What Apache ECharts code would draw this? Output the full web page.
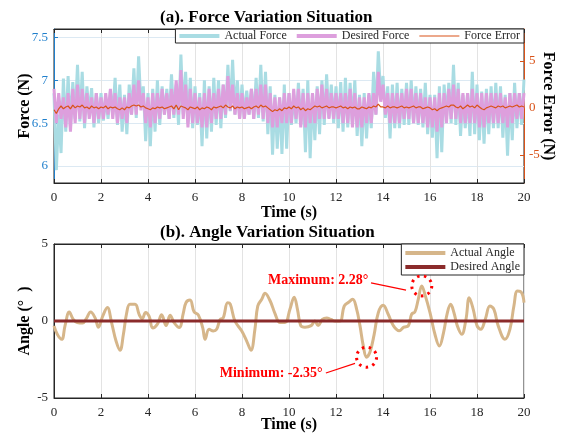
<!DOCTYPE html>
<html>
<head>
<meta charset="utf-8">
<script src="https://cdn.jsdelivr.net/npm/echarts@6/dist/echarts.min.js"></script>
<style>
  html, body { margin: 0; padding: 0; background: #fff; }
  #main { width: 565px; height: 434px; }
</style>
</head>
<body>
<div id="main"></div>
<script>
// sampling step of the force record (s)
var forceStep = 0.1;

// actual force (N), one value every 0.1 s from 0 to 20 s
var actualForce = [
  6.85, 5.95, 6.6, 6.15, 7.02, 6.4, 7.05, 6.45, 6.98, 6.55,
  7.18, 6.52, 7.1, 6.44, 6.93, 6.6, 6.91, 6.45, 6.85, 6.5,
  6.85, 6.53, 6.8, 6.55, 6.87, 6.6, 7.03, 6.48, 6.95, 6.4,
  6.83, 6.37, 6.95, 6.6, 7.14, 6.56, 7.28, 6.7, 6.93, 6.29,
  6.85, 6.23, 6.9, 6.4, 7.0, 6.48, 6.93, 6.6, 6.9, 6.55,
  7.07, 6.56, 6.95, 6.48, 7.3, 6.6, 7.1, 6.5, 7.03, 6.44,
  6.93, 6.48, 6.85, 6.23, 7.0, 6.32, 6.93, 6.4, 7.03, 6.48,
  7.0, 6.44, 6.95, 6.56, 7.18, 6.64, 7.24, 6.6, 7.0, 6.56,
  6.95, 6.56, 6.88, 6.6, 6.9, 6.55, 7.03, 6.56, 7.18, 6.52,
  7.1, 6.37, 6.93, 6.13, 6.83, 6.2, 6.8, 6.14, 6.95, 6.2,
  6.85, 6.48, 6.83, 6.5, 6.97, 6.48, 6.9, 6.16, 7.0, 6.09,
  6.85, 6.3, 6.93, 6.37, 7.0, 6.48, 7.07, 6.56, 6.95, 6.5,
  6.93, 6.44, 6.98, 6.4, 7.03, 6.45, 6.97, 6.48, 7.0, 6.35,
  6.83, 6.23, 6.85, 6.32, 6.83, 6.44, 7.1, 6.6, 7.34, 6.83,
  7.05, 6.56, 6.93, 6.32, 6.95, 6.44, 6.97, 6.44, 6.9, 6.48,
  6.97, 6.48, 7.0, 6.5, 6.93, 6.48, 6.9, 6.45, 6.97, 6.37,
  6.83, 6.33, 6.83, 6.09, 6.93, 6.16, 6.95, 6.56, 6.97, 6.5,
  7.18, 6.48, 6.97, 6.35, 6.83, 6.44, 6.85, 6.35, 7.1, 6.37,
  6.95, 6.3, 6.87, 6.26, 6.9, 6.37, 6.93, 6.44, 6.97, 6.44,
  6.93, 6.33, 6.83, 6.12, 6.85, 6.3, 6.97, 6.44, 6.85, 6.48,
  7.01
];

// desired force (N), same sampling
var desiredForce = [
  6.9, 6.5, 6.85, 6.55, 6.8, 6.45, 6.85, 6.4, 6.9, 6.5,
  6.95, 6.55, 6.9, 6.5, 6.85, 6.55, 6.8, 6.5, 6.85, 6.55,
  6.8, 6.55, 6.85, 6.6, 6.9, 6.55, 6.85, 6.5, 6.8, 6.55,
  6.8, 6.5, 6.85, 6.6, 6.95, 6.6, 7.0, 6.65, 6.85, 6.5,
  6.8, 6.45, 6.85, 6.5, 6.85, 6.55, 6.9, 6.6, 6.85, 6.55,
  6.9, 6.6, 7.0, 6.6, 7.12, 6.55, 6.95, 6.45, 6.9, 6.5,
  6.85, 6.5, 6.8, 6.45, 6.85, 6.45, 6.9, 6.5, 6.85, 6.55,
  6.9, 6.55, 6.95, 6.6, 7.05, 6.65, 6.95, 6.6, 6.85, 6.55,
  6.85, 6.55, 6.8, 6.6, 6.9, 6.55, 6.9, 6.6, 6.95, 6.55,
  6.95, 6.5, 6.85, 6.45, 6.8, 6.45, 6.8, 6.5, 6.85, 6.5,
  6.85, 6.5, 6.9, 6.55, 6.9, 6.45, 6.85, 6.45, 6.85, 6.5,
  6.85, 6.5, 6.9, 6.55, 6.95, 6.55, 6.9, 6.55, 6.85, 6.55,
  6.85, 6.55, 6.85, 6.5, 6.85, 6.5, 6.9, 6.45, 6.85, 6.45,
  6.8, 6.45, 6.8, 6.5, 6.85, 6.5, 6.85, 6.6, 7.1, 6.75,
  6.95, 6.6, 6.85, 6.5, 6.85, 6.5, 6.85, 6.5, 6.85, 6.55,
  6.9, 6.55, 6.9, 6.5, 6.85, 6.5, 6.85, 6.5, 6.8, 6.45,
  6.8, 6.45, 6.8, 6.4, 6.85, 6.45, 6.85, 6.5, 6.9, 6.55,
  6.95, 6.55, 6.9, 6.5, 6.85, 6.5, 6.85, 6.5, 6.9, 6.5,
  6.85, 6.45, 6.85, 6.45, 6.85, 6.5, 6.85, 6.5, 6.85, 6.5,
  6.85, 6.5, 6.8, 6.45, 6.85, 6.5, 6.85, 6.55, 6.85, 6.55,
  6.85
];

// force error (N), right axis
var forceError = [
  -0.2, -0.6, -0.1, 0.2, -0.1, 0.1, 0.2, -0.1, 0.3, 0.0,
  0.2, 0.1, 0.3, 0.0, 0.1, -0.1, 0.2, 0.0, 0.1, -0.1,
  0.1, 0.0, 0.2, -0.1, 0.1, 0.0, 0.1, -0.1, -0.2, 0.0,
  -0.2, 0.1, 0.0, 0.2, 0.3, 0.2, 0.3, 0.1, 0.2, 0.0,
  -0.1, -0.2, 0.0, -0.1, 0.1, 0.0, 0.1, -0.1, 0.0, 0.1,
  0.2, -0.1, 0.3, -0.2, 0.2, 0.1, 0.0, -0.2, 0.1, 0.0,
  -0.1, 0.1, -0.2, 0.0, -0.1, 0.1, 0.0, -0.2, 0.1, 0.0,
  0.1, 0.2, 0.0, 0.3, 0.1, 0.0, 0.2, -0.1, 0.1, 0.0,
  0.1, -0.1, 0.0, 0.1, -0.1, 0.1, 0.2, 0.0, 0.3, 0.1,
  0.2, 0.0, -0.2, -0.4, -0.2, -0.3, -0.1, -0.3, 0.0, -0.1,
  0.1, -0.1, 0.2, 0.0, 0.1, -0.2, 0.0, -0.3, -0.1, -0.2,
  0.0, 0.2, 0.1, 0.2, 0.0, 0.1, 0.2, 0.0, 0.1, 0.1,
  0.0, 0.1, 0.2, 0.0, 0.1, -0.1, 0.1, 0.0, 0.1, -0.1,
  -0.1, 0.1, 0.0, -0.1, 0.1, 0.0, 0.2, 0.1, 0.4, 0.1,
  0.1, 0.0, 0.2, 0.0, 0.1, 0.1, 0.0, 0.1, 0.2, 0.0,
  0.1, 0.0, 0.1, 0.2, 0.0, 0.1, 0.1, -0.1, 0.0, 0.1,
  0.0, -0.2, -0.1, -0.3, -0.1, 0.0, 0.1, 0.2, 0.1, 0.3,
  0.3, 0.1, 0.0, 0.2, -0.1, 0.1, 0.3, 0.1, 0.2, 0.0,
  0.3, 0.1, -0.1, -0.2, 0.0, 0.1, 0.2, 0.1, 0.0, 0.2,
  0.1, 0.2, 0.0, 0.1, 0.2, 0.1, 0.2, 0.3, 0.1, 0.2,
  0.1
];

// actual angle (deg) read at these times (s)
var angleTime = [
  0, 0.14, 0.33, 0.47, 0.65, 0.82, 0.99, 1.22, 1.37, 1.56,
  1.75, 1.89, 2.07, 2.27, 2.45, 2.64, 2.81, 2.95, 3.09, 3.23,
  3.45, 3.63, 3.75, 3.9, 4.05, 4.2, 4.4, 4.58, 4.77, 4.94,
  5.11, 5.33, 5.5, 5.62, 5.79, 5.96, 6.14, 6.33, 6.43, 6.6,
  6.78, 6.92, 7.07, 7.2, 7.39, 7.5, 7.7, 7.99, 8.2, 8.38,
  8.55, 8.67, 8.84, 8.98, 9.2, 9.4, 9.62, 9.83, 10.04, 10.22,
  10.36, 10.5, 10.68, 10.94, 11.1, 11.24, 11.42, 11.6, 11.79, 11.96,
  12.17, 12.35, 12.52, 12.71, 12.88, 13.02, 13.16, 13.3, 13.45, 13.62,
  13.8, 14.01, 14.22, 14.44, 14.69, 14.89, 15.08, 15.22, 15.36, 15.5,
  15.65, 15.79, 16.0, 16.21, 16.4, 16.57, 16.74, 16.88, 17.02, 17.16,
  17.35, 17.53, 17.67, 17.84, 18.0, 18.16, 18.35, 18.55, 18.72, 18.9,
  19.19, 19.4, 19.57, 19.72, 19.9, 20.0
];
var angleValue = [
  -0.32, -0.86, -1.19, -0.3, 0.58, 0.1, -0.1, -0.13, 0.14, 0.58,
  0.2, -0.4, 0.3, 0.87, -0.1, -1.3, -1.9, -0.9, 0.5, 1.08,
  1.08, 0.4, 0.15, 0.55, 0.3, -0.45, -0.2, 0.4, -0.3, 0.37,
  -0.1, -0.42, 0.5, 1.2, 1.36, 0.6, 0.4, -0.45, -1.19, -0.54,
  -0.65, -0.54, 0.1, 0.2, 1.19, 1.1, 0.0, -0.65, -1.3, -1.9,
  -0.54, 0.97, 1.41, 1.8, 1.3, 0.5, -0.1, -0.1, 0.76, 1.55,
  0.76, -0.3, -0.4, -0.3, 0.0, -0.3, 0.1, 0.2, 0.1, 0.0,
  0.0, 0.97, 1.2, 1.41, 0.76, -0.3, -1.6, -2.35, -2.0, -0.9,
  0.54, 1.02, 0.44, -0.3, -0.63, -0.4, -0.3, 0.44, 0.6, 1.41,
  2.28, 1.7, 0.54, -0.86, -1.62, -0.8, 0.54, 1.08, 0.54, -0.3,
  -0.86, 0.1, 1.51, 0.76, -0.3, -0.54, 0.1, 0.97, 0.76, -0.3,
  -1.19, -0.54, 0.97, 1.95, 1.84, 1.2
];

// desired angle (deg)
var desiredAngleTime = [0, 20];
var desiredAngle = [0, 0];

var forceTicks = [6, 6.5, 7, 7.5];
var errorTicks = [-5, 0, 5];

var serif = 'Liberation Serif';
var ink = '#262626';
var blue = '#1F7FCC';
var orange = '#D95319';

function toPairs(times, vals) {
  var out = [];
  for (var i = 0; i < vals.length; i++) {
    var t = times ? times[i] : Math.round(i * forceStep * 100) / 100;
    out.push([t, vals[i]]);
  }
  return out;
}

// find the extreme points of the angle record for the callouts
var maxIdx = 0, minIdx = 0;
for (var k = 0; k < angleValue.length; k++) {
  if (angleValue[k] > angleValue[maxIdx]) maxIdx = k;
  if (angleValue[k] < angleValue[minIdx]) minIdx = k;
}
var maxPt = [angleTime[maxIdx], angleValue[maxIdx]];
var minPt = [angleTime[minIdx], angleValue[minIdx]];

var nameFont = { fontFamily: serif, fontWeight: 'bold', fontSize: 16, color: '#000' };

function xAxisFor(gridIndex, showLabels, gap) {
  return {
    type: 'value', gridIndex: gridIndex, min: 0, max: 20, interval: 2,
    position: showLabels ? 'bottom' : 'top',
    name: showLabels ? 'Time (s)' : '', nameLocation: 'middle', nameGap: gap,
    nameMoveOverlap: false, nameTextStyle: nameFont,
    axisLine: { onZero: false, lineStyle: { color: ink } },
    axisTick: { inside: true, length: 4, lineStyle: { color: ink } },
    axisLabel: { show: showLabels, fontFamily: serif, fontSize: 13, color: ink, margin: 8 },
    splitLine: { show: showLabels, lineStyle: { color: '#E3E3E3' } }
  };
}

function calloutText(pt, text) {
  return {
    coord: pt, symbol: 'circle', symbolSize: 1,
    itemStyle: { color: 'rgba(0,0,0,0)' },
    label: {
      show: true, position: 'left', distance: 0, formatter: text,
      color: '#FF0000', fontFamily: serif, fontWeight: 'bold', fontSize: 14
    }
  };
}

function dottedRing(pt) {
  return {
    coord: pt, symbol: 'circle', symbolSize: 20, label: { show: false },
    itemStyle: { color: 'rgba(0,0,0,0)', borderColor: '#FF0000', borderWidth: 3, borderType: [2.5, 4.5] }
  };
}

function lineIcon(h) {
  return 'path://M0,0H40V' + h + 'H0Z';
}

var chart = echarts.init(document.getElementById('main'), null, { renderer: 'canvas' });

var option = {
  animation: false,
  backgroundColor: '#fff',
  title: [
    {
      text: '(a). Force Variation Situation', left: 160, top: 9, padding: 0,
      textStyle: { fontFamily: serif, fontWeight: 'bold', fontSize: 17, color: '#000' }
    },
    {
      text: '(b). Angle Variation Situation', left: 160, top: 224, padding: 0,
      textStyle: { fontFamily: serif, fontWeight: 'bold', fontSize: 17, color: '#000' }
    }
  ],
  legend: [
    {
      right: 41, top: 29, orient: 'horizontal', itemWidth: 40, itemHeight: 4, itemGap: 10,
      padding: [1, 4, 1, 4], borderColor: ink, borderWidth: 1, backgroundColor: '#fff',
      textStyle: { fontFamily: serif, fontSize: 12, color: ink },
      data: [
        { name: 'Actual Force', icon: lineIcon(4) },
        { name: 'Desired Force', icon: lineIcon(4) },
        { name: 'Force Error', icon: lineIcon(1.2) }
      ]
    },
    {
      right: 41, top: 244, orient: 'vertical', itemWidth: 40, itemHeight: 4, itemGap: 2,
      padding: [3, 4, 2, 4], borderColor: ink, borderWidth: 1, backgroundColor: '#fff',
      textStyle: { fontFamily: serif, fontSize: 12, color: ink },
      data: [
        { name: 'Actual Angle', icon: lineIcon(4) },
        { name: 'Desired Angle', icon: lineIcon(4) }
      ]
    }
  ],
  grid: [
    { left: 54, right: 41, top: 29, height: 154, show: true, borderColor: ink, borderWidth: 1, outerBoundsMode: 'none' },
    { left: 54, right: 41, top: 244, height: 154, show: true, borderColor: ink, borderWidth: 1, outerBoundsMode: 'none' }
  ],
  xAxis: [
    xAxisFor(0, true, 22),
    xAxisFor(0, false, 0),
    xAxisFor(1, true, 19),
    xAxisFor(1, false, 0)
  ],
  yAxis: [
    {
      type: 'value', gridIndex: 0, min: 5.8, max: 7.6,
      name: 'Force (N)', nameLocation: 'middle', nameGap: 21,
      nameMoveOverlap: false, nameTextStyle: nameFont,
      axisLine: { show: true, onZero: false, lineStyle: { color: blue } },
      axisTick: { inside: true, length: 4, customValues: forceTicks, lineStyle: { color: blue } },
      axisLabel: { customValues: forceTicks, fontFamily: serif, fontSize: 13, color: blue, margin: 6 },
      splitLine: { show: true, lineStyle: { color: '#DCE9F3' } }
    },
    {
      type: 'value', gridIndex: 0, position: 'right', min: -8, max: 8.4, alignTicks: false,
      name: 'Force Error (N)', nameLocation: 'middle', nameGap: 16, nameRotate: -90,
      nameMoveOverlap: false, nameTextStyle: nameFont,
      axisLine: { show: true, onZero: false, lineStyle: { color: orange } },
      axisTick: { inside: true, length: 4, customValues: errorTicks, lineStyle: { color: orange } },
      axisLabel: { customValues: errorTicks, fontFamily: serif, fontSize: 13, color: orange, margin: 5 },
      splitLine: { show: false }
    },
    {
      type: 'value', gridIndex: 1, min: -5, max: 5, interval: 5,
      name: 'Angle (°  )', nameLocation: 'middle', nameGap: 21,
      nameMoveOverlap: false, nameTextStyle: nameFont,
      axisLine: { show: true, onZero: false, lineStyle: { color: ink } },
      axisTick: { inside: true, length: 4, lineStyle: { color: ink } },
      axisLabel: { fontFamily: serif, fontSize: 13, color: ink, margin: 6 },
      splitLine: { show: false }
    }
  ],
  series: [
    {
      name: 'Actual Force', type: 'line', xAxisIndex: 0, yAxisIndex: 0,
      symbol: 'none', data: toPairs(null, actualForce),
      lineStyle: { color: '#A9DCE3', width: 3 }, itemStyle: { color: '#A9DCE3' }
    },
    {
      name: 'Desired Force', type: 'line', xAxisIndex: 0, yAxisIndex: 0,
      symbol: 'none', data: toPairs(null, desiredForce),
      lineStyle: { color: '#DD9FDD', width: 3 }, itemStyle: { color: '#DD9FDD' }
    },
    {
      name: 'Force Error', type: 'line', xAxisIndex: 0, yAxisIndex: 1,
      symbol: 'none', data: toPairs(null, forceError),
      lineStyle: { color: orange, width: 1.2 }, itemStyle: { color: orange }
    },
    {
      name: 'Actual Angle', type: 'line', xAxisIndex: 2, yAxisIndex: 2,
      symbol: 'none', smooth: 0.4, data: toPairs(angleTime, angleValue),
      lineStyle: { color: '#D6B68A', width: 3 }, itemStyle: { color: '#D6B68A' },
      markPoint: {
        silent: true,
        data: [
          dottedRing(maxPt),
          dottedRing(minPt),
          calloutText([13.4, 2.66], 'Maximum: ' + maxPt[1].toFixed(2) + '°'),
          calloutText([11.45, -3.38], 'Minimum: ' + minPt[1].toFixed(2) + '°')
        ]
      },
      markLine: {
        silent: true, symbol: ['none', 'arrow'], symbolSize: [0, 9],
        label: { show: false },
        lineStyle: { color: '#FF0000', width: 1.2, type: 'solid' },
        data: [
          [{ coord: [13.49, 2.47] }, { coord: [14.98, 2.01] }],
          [{ coord: [11.57, -3.38] }, { coord: [12.81, -2.75] }]
        ]
      }
    },
    {
      name: 'Desired Angle', type: 'line', xAxisIndex: 2, yAxisIndex: 2,
      symbol: 'none', data: toPairs(desiredAngleTime, desiredAngle),
      lineStyle: { color: '#8B2B2B', width: 3 }, itemStyle: { color: '#8B2B2B' }
    }
  ]
};

chart.setOption(option);
</script>
</body>
</html>
